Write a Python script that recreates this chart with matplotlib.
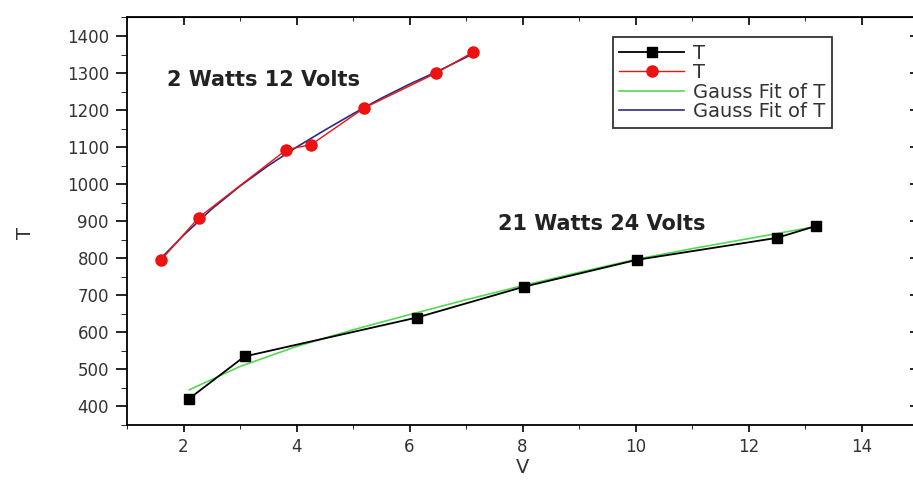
import numpy as np
import matplotlib.pyplot as plt
from matplotlib.ticker import MultipleLocator

# 21 W / 24 V lamp (black squares)
v_21w = [2.09, 3.08, 6.13, 8.02, 10.03, 12.5, 13.19]
t_21w = [420, 535, 640, 723, 796, 855, 887]

# 2 W / 12 V lamp (red circles)
v_2w = [1.60, 2.27, 3.82, 4.26, 5.20, 6.47, 7.12]
t_2w = [795, 910, 1093, 1107, 1206, 1300, 1356]

# fitted curves
fit_v_21w = [2.1, 3, 4, 5, 6, 7, 8, 9, 10, 11, 12, 13.2]
fit_t_21w = [445, 508, 562, 607, 648, 688, 726, 762, 797, 826, 853, 886]
fit_v_2w = [1.6, 2.0, 2.5, 3.0, 3.5, 4.0, 4.5, 5.0, 5.5, 6.0, 6.5, 7.1]
fit_t_2w = [800, 862, 933, 995, 1050, 1100, 1146, 1190, 1232, 1270, 1305, 1350]

plt.rcParams['font.family'] = ['DejaVu Sans']

fig = plt.figure(figsize=(9.13, 4.80), dpi=100)
ax = fig.add_axes([127/913, 1 - 425/480, (918 - 127)/913, (425 - 17.5)/480])

ax.plot(v_21w, t_21w, '-s', color='black', lw=1.3, ms=7, label='T', zorder=4)
ax.plot(v_2w, t_2w, '-o', color='#ee1111', lw=1.0, ms=8, label='T', zorder=4)
ax.plot(fit_v_21w, fit_t_21w, '-', color='#55d855', lw=1.2, label='Gauss Fit of T', zorder=3)
ax.plot(fit_v_2w, fit_t_2w, '-', color='#2b2b80', lw=1.2, label='Gauss Fit of T', zorder=3)

ax.set_xlim(1, 15)
ax.set_ylim(350, 1450)
ax.xaxis.set_major_locator(MultipleLocator(2))
ax.xaxis.set_minor_locator(MultipleLocator(1))
ax.yaxis.set_major_locator(MultipleLocator(100))
ax.yaxis.set_minor_locator(MultipleLocator(50))
ax.set_yticks(np.arange(400, 1401, 100))

ax.tick_params(axis='both', which='major', labelsize=12, labelcolor='#333333', width=1.2)
ax.tick_params(axis='x', which='major', direction='out', length=5, pad=4)
ax.tick_params(axis='y', which='major', direction='out', length=8, pad=5)
ax.tick_params(axis='x', which='minor', direction='out', length=3)
ax.tick_params(axis='y', which='minor', direction='out', length=4)

# mirrored ticks on top and right
top = ax.secondary_xaxis('top')
top.set_xticks(np.arange(2, 15, 2))
top.xaxis.set_minor_locator(MultipleLocator(1))
top.tick_params(which='major', direction='in', length=6, width=1.2, labeltop=False)
top.tick_params(which='minor', direction='in', length=3)
right = ax.secondary_yaxis('right')
right.set_yticks(np.arange(400, 1401, 100))
right.yaxis.set_minor_locator(MultipleLocator(50))
right.tick_params(which='major', direction='in', length=6, width=1.2, labelright=False)
right.tick_params(which='minor', direction='in', length=3)

for s in ax.spines.values():
    s.set_linewidth(1.3)

ax.set_xlabel('V', fontsize=14, color='#333333', labelpad=2)
ax.set_ylabel('T', fontsize=14, color='#333333')
ax.yaxis.set_label_coords(-0.116, 0.47)

ax.text(1.70, 1280, '2 Watts 12 Volts', fontsize=15, fontweight='bold',
        color='#222222', va='center', ha='left')
ax.text(7.56, 892, '21 Watts 24 Volts', fontsize=15, fontweight='bold',
        color='#222222', va='center', ha='left')

leg = ax.legend(loc='upper left', bbox_to_anchor=(0.614, 0.952), borderaxespad=0,
                fontsize=14, frameon=True, fancybox=False, edgecolor='black',
                handlelength=3.3, handletextpad=0.5, labelspacing=0.02,
                borderpad=0.35, labelcolor='#333333')
leg.get_frame().set_linewidth(1.3)

fig.savefig('out.png', dpi=100)
